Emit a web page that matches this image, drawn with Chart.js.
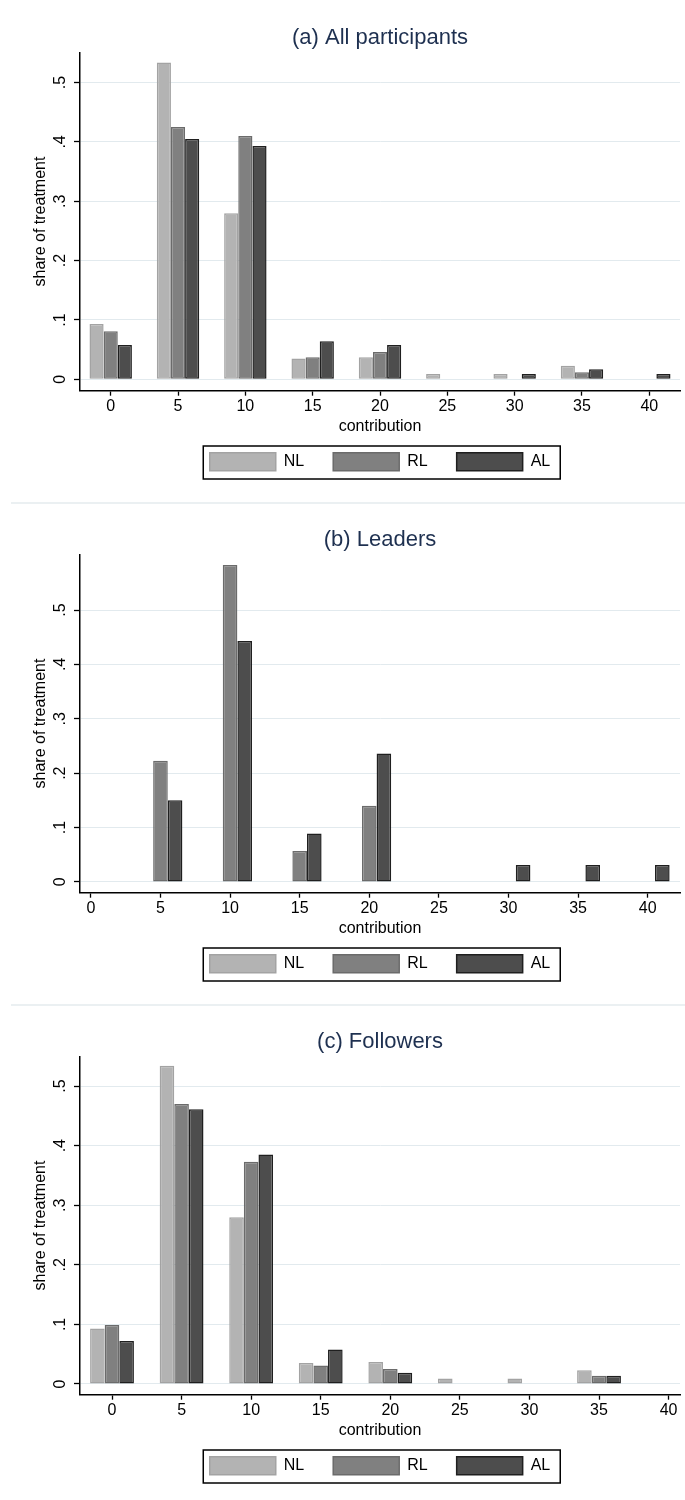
<!DOCTYPE html>
<html>
<head>
<meta charset="utf-8">
<title>Contribution distributions</title>
<script src="https://cdn.jsdelivr.net/npm/chart.js@4.4.1/dist/chart.umd.min.js"></script>
<style>
  html, body { margin: 0; padding: 0; background: #fff; }
  #page { position: relative; width: 685px; height: 1500px; overflow: hidden; }
  #page canvas { position: absolute; left: 0; }
  .rule { position: absolute; left: 11px; right: 0; height: 2px; background: #ebf0f2; }
</style>
</head>
<body>
<div id="page">
  <canvas id="panelA" width="685" height="502" style="top:0px"></canvas>
  <canvas id="panelB" width="685" height="502" style="top:502px"></canvas>
  <canvas id="panelC" width="685" height="496" style="top:1004px"></canvas>
  <div class="rule" style="top:502px"></div>
  <div class="rule" style="top:1004px"></div>
</div>
<script>
// Contribution levels and axis ticks
const contributions = [0, 5, 10, 15, 20, 25, 30, 35, 40];
const xTickValues = [0, 5, 10, 15, 20, 25, 30, 35, 40];
const yTickValues = [0, 0.1, 0.2, 0.3, 0.4, 0.5];
const seriesNames = ['NL', 'RL', 'AL'];

// (a) All participants: share of treatment at each contribution level
const allNL = [0.093, 0.534, 0.280, 0.035, 0.037, 0.009, 0.009, 0.023, 0];
const allRL = [0.081, 0.425, 0.410, 0.037, 0.046, 0, 0, 0.012, 0];
const allAL = [0.058, 0.405, 0.393, 0.064, 0.058, 0, 0.009, 0.017, 0.009];

// (b) Leaders
const leadersNL = [0, 0, 0, 0, 0, 0, 0, 0, 0];
const leadersRL = [0, 0.223, 0.583, 0.057, 0.140, 0, 0, 0, 0];
const leadersAL = [0, 0.150, 0.443, 0.089, 0.236, 0, 0.031, 0.031, 0.031];

// (c) Followers
const followersNL = [0.093, 0.534, 0.280, 0.035, 0.037, 0.009, 0.009, 0.023, 0];
const followersRL = [0.099, 0.470, 0.373, 0.031, 0.025, 0, 0, 0.014, 0];
const followersAL = [0.072, 0.461, 0.385, 0.058, 0.019, 0, 0, 0.014, 0];

const fills = ['#b3b3b3', '#808080', '#4d4d4d'];
const edges = ['#a3a3a3', '#6b6b6b', '#1f1f1f'];

Chart.defaults.font.family = "'Liberation Sans', Arial, Helvetica, sans-serif";
Chart.defaults.font.size = 16;
Chart.defaults.color = '#000';

// Frame drawn around the legend entries
const legendFrame = {
  id: 'legendFrame',
  afterDraw(chart) {
    const boxes = chart.legend && chart.legend.legendHitBoxes;
    if (!boxes || !boxes.length) return;
    const left = Math.min(...boxes.map(b => b.left)) - 6.5;
    const right = Math.max(...boxes.map(b => b.left + b.width)) + 10;
    const top = boxes[0].top - 6.7;
    const bottom = boxes[0].top + boxes[0].height + 8.3;
    const ctx = chart.ctx;
    ctx.save();
    ctx.strokeStyle = '#000';
    ctx.lineWidth = 1.5;
    ctx.strokeRect(left, top, right - left, bottom - top);
    ctx.restore();
  }
};

const panels = [
  { id: 'panelA', title: '(a) All participants', series: [allNL, allRL, allAL],
    xMin: -2.28, xMax: 42.28, yMin: -0.0192, yMax: 0.551, height: 502 },
  { id: 'panelB', title: '(b) Leaders', series: [leadersNL, leadersRL, leadersAL],
    xMin: -0.78, xMax: 42.32, yMin: -0.0199, yMax: 0.6026, height: 502 },
  { id: 'panelC', title: '(c) Followers', series: [followersNL, followersRL, followersAL],
    xMin: -2.3, xMax: 40.82, yMin: -0.018, yMax: 0.55, height: 496 }
];

const X_AXIS_HEIGHT = 33;
const Y_AXIS_WIDTH = 80;
const LEGEND_BOTTOM = 480.7;

panels.forEach(p => {
  const datasets = seriesNames.map((name, k) => ({
    label: name,
    data: contributions.map((c, i) => ({ x: c, y: p.series[k][i] })),
    backgroundColor: fills[k],
    borderColor: edges[k],
    borderWidth: 1.5,
    borderSkipped: false,
    categoryPercentage: 0.63,
    barPercentage: 1
  }));

  new Chart(document.getElementById(p.id), {
    type: 'bar',
    data: { datasets },
    plugins: [legendFrame],
    options: {
      responsive: false,
      animation: false,
      devicePixelRatio: 1,
      events: [],
      layout: { padding: { top: 0, left: 0, right: 5, bottom: p.height - LEGEND_BOTTOM } },
      scales: {
        x: {
          type: 'linear',
          min: p.xMin,
          max: p.xMax,
          offset: false,
          afterBuildTicks: s => { s.ticks = xTickValues.map(v => ({ value: v })); },
          afterFit: s => { s.height = X_AXIS_HEIGHT; },
          grid: { drawOnChartArea: false, drawTicks: true, tickLength: 5, tickColor: '#000', tickWidth: 1.3, offset: false },
          border: { display: true, color: '#000', width: 1.5 },
          ticks: { padding: 1.4, color: '#000', maxRotation: 0, autoSkip: false, callback: v => String(v) },
          title: { display: true, text: 'contribution', color: '#000', padding: { top: 0, bottom: -12.9 } }
        },
        y: {
          min: p.yMin,
          max: p.yMax,
          afterBuildTicks: s => { s.ticks = yTickValues.map(v => ({ value: v })); },
          afterFit: s => { s.width = Y_AXIS_WIDTH; },
          grid: { color: '#e2eaee', lineWidth: 1, drawTicks: true, tickLength: 6, tickColor: '#000', tickWidth: 1.3 },
          border: { display: true, color: '#000', width: 1.5 },
          ticks: {
            padding: 6.33, crossAlign: 'center', minRotation: 90, maxRotation: 90, color: '#000',
            callback: v => (v === 0 ? '0' : String(v).replace(/^0/, ''))
          },
          title: { display: true, text: 'share of treatment', color: '#000', padding: { top: 30.9, bottom: 0 } }
        }
      },
      plugins: {
        title: {
          display: true, text: p.title, fullSize: false, color: '#1e3050',
          font: { size: 22, weight: 'normal' }, padding: { top: 24.3, bottom: 1.6 }
        },
        legend: {
          position: 'bottom', fullSize: false,
          labels: { boxWidth: 66, boxHeight: 18, padding: 29, color: '#000' }
        },
        tooltip: { enabled: false }
      }
    }
  });
});
</script>
</body>
</html>
